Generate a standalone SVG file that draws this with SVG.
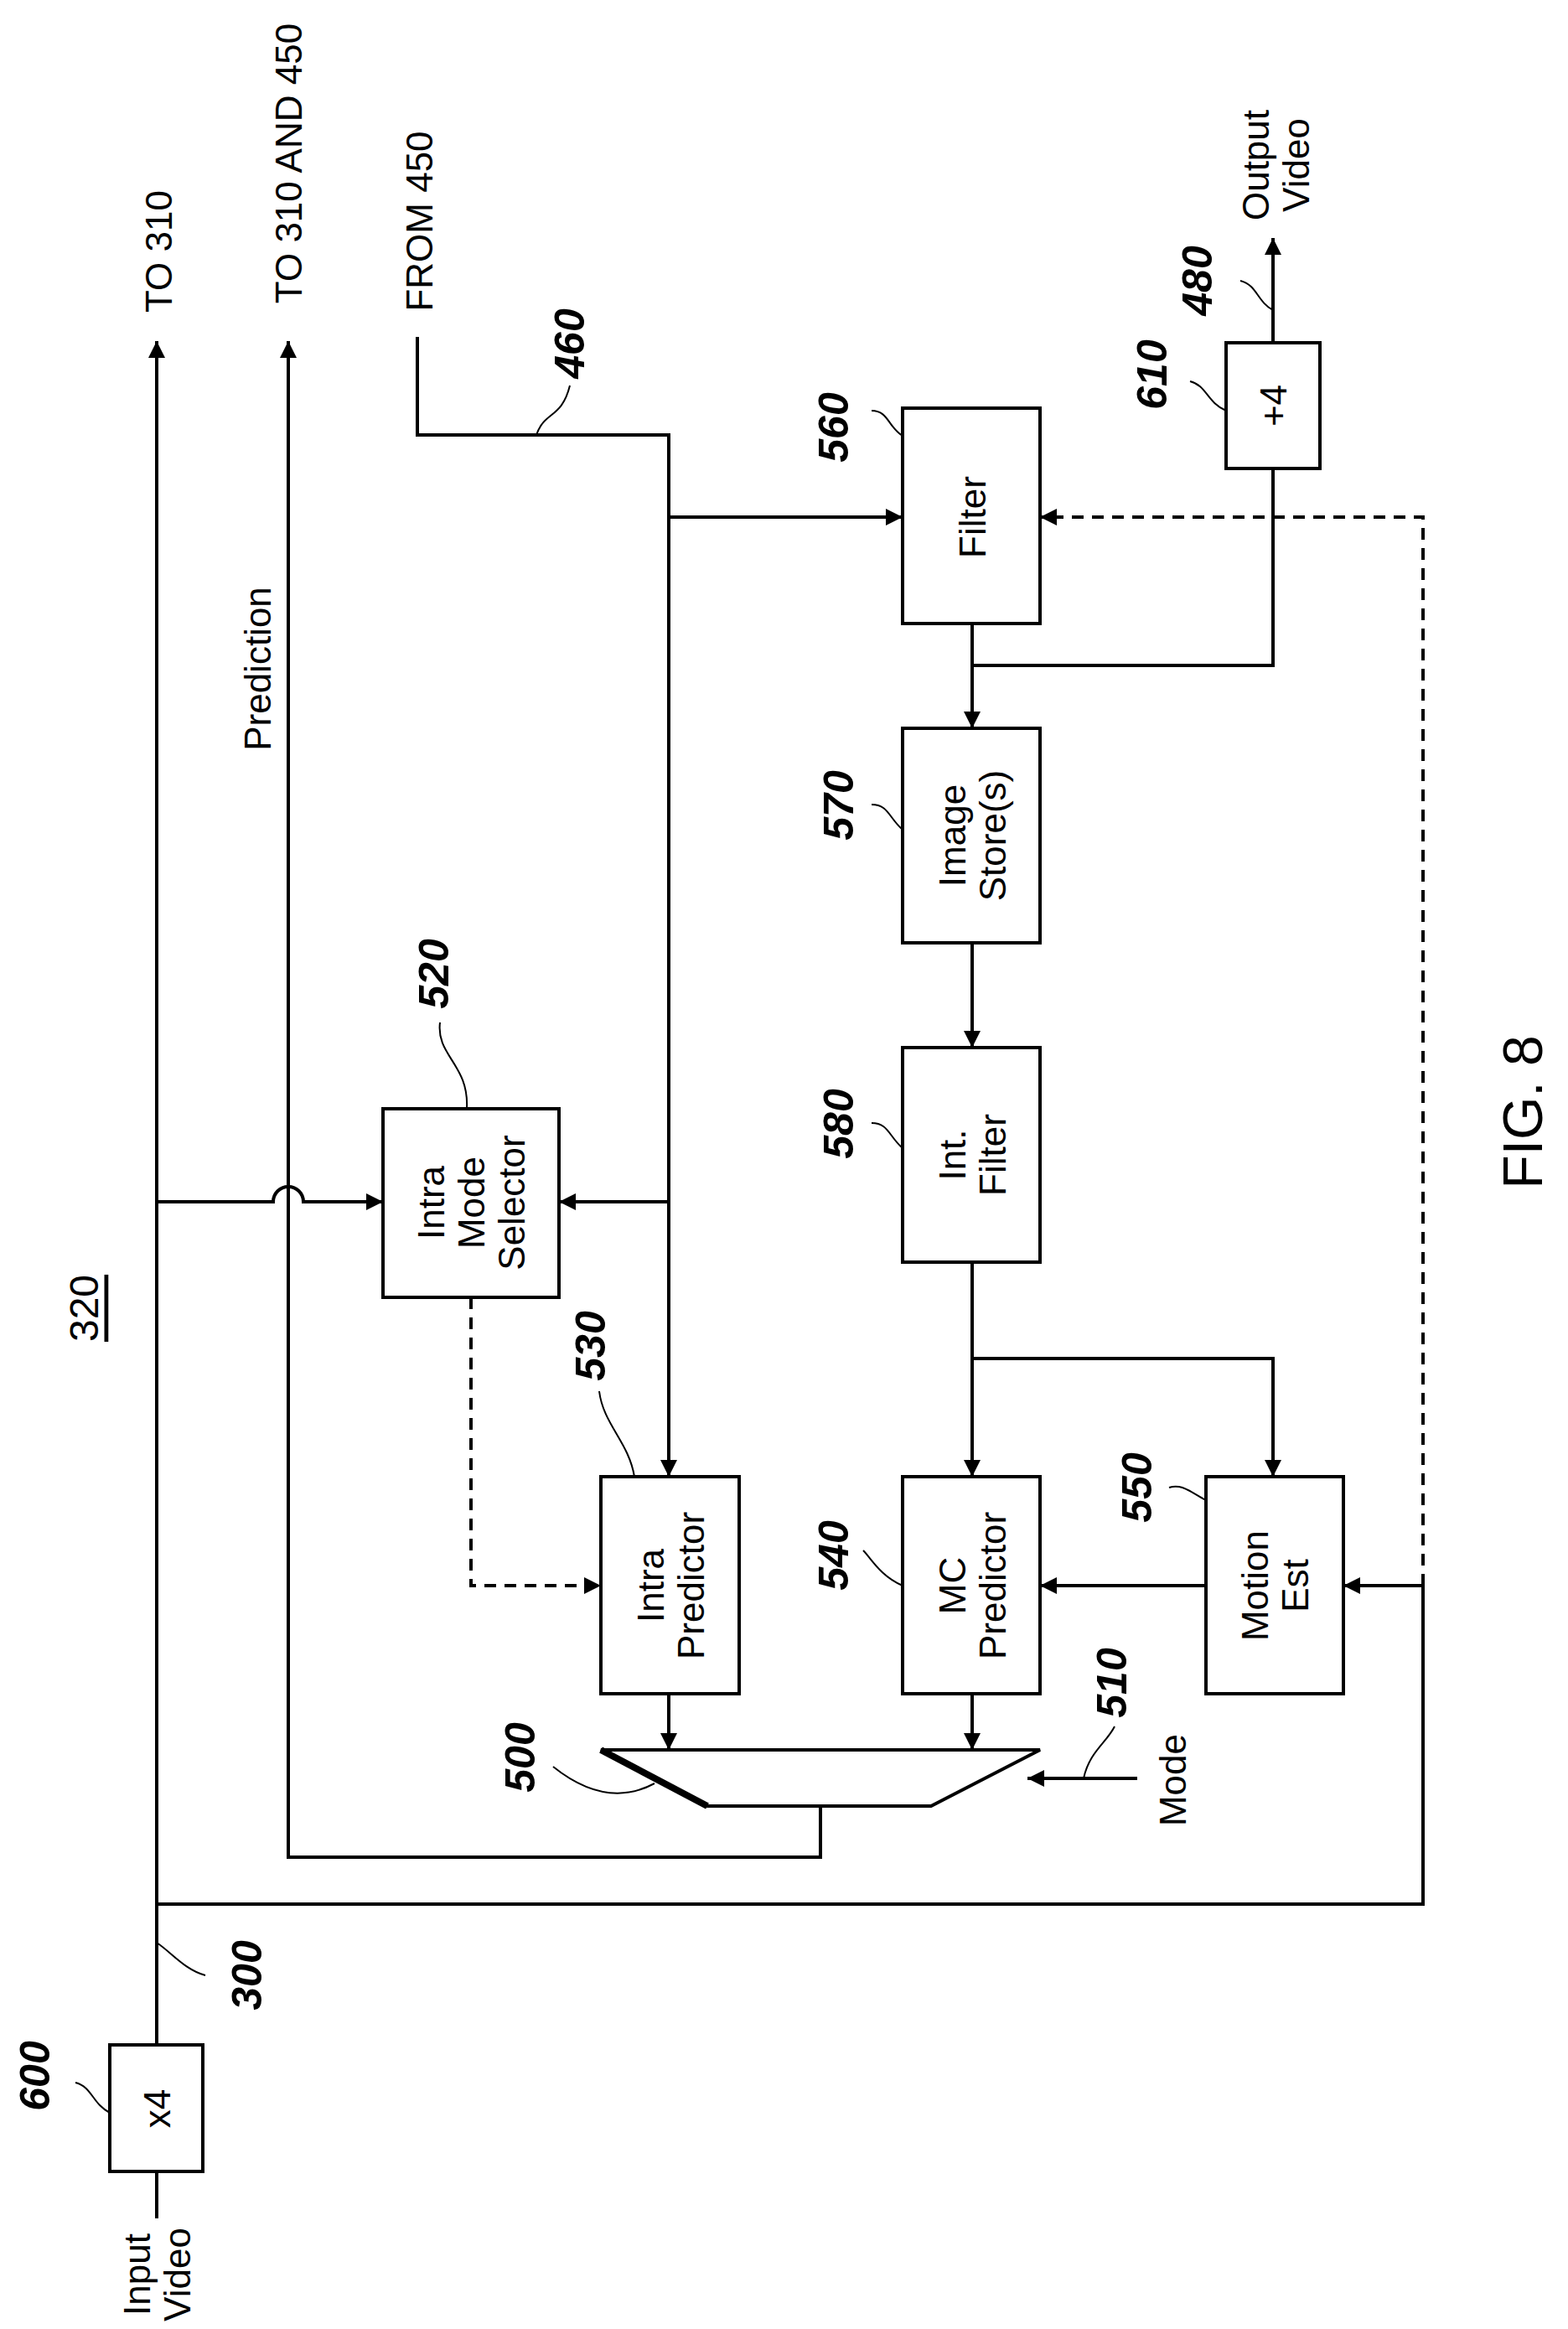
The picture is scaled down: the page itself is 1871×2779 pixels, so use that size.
<svg xmlns="http://www.w3.org/2000/svg" width="1871" height="2779" viewBox="0 0 1871 2779">
<style>
.b{fill:#fff;stroke:#000;stroke-width:4}
.l{fill:none;stroke:#000;stroke-width:4}
.d{fill:none;stroke:#000;stroke-width:4;stroke-dasharray:14,10}
.ld{fill:none;stroke:#000;stroke-width:2}
.t{font-family:"Liberation Sans",Arial,sans-serif;font-size:44px;text-anchor:middle;dominant-baseline:central}
.n{font-family:"Liberation Sans",Arial,sans-serif;font-size:50px;font-weight:bold;font-style:italic;text-anchor:middle;dominant-baseline:central}
</style>
<defs>
<marker id="a" viewBox="0 0 10 10" refX="10" refY="5" markerWidth="6" markerHeight="5" orient="auto" markerUnits="strokeWidth"><path d="M0,0 L10,5 L0,10 z" fill="#000"/></marker>
</defs>
<rect width="1871" height="2779" fill="#fff"/>
<g id="connectors">
<path class="l" d="M187,2441 V407" marker-end="url(#a)"/>
<path class="l" d="M187,2591 V2647"/>
<path class="l" d="M979,2155 V2216 H344 V407" marker-end="url(#a)"/>
<path class="l" d="M498,402 V519 H798 V1762" marker-end="url(#a)"/>
<path class="l" d="M798,617 H1077" marker-end="url(#a)"/>
<path class="l" d="M798,1434 H667" marker-end="url(#a)"/>
<path class="l" d="M187,1434 H326 A18,18 0 0 1 362,1434 H457" marker-end="url(#a)"/>
<path class="d" d="M562,1548 V1892 H717" marker-end="url(#a)"/>
<path class="l" d="M1160,744 V869" marker-end="url(#a)"/>
<path class="l" d="M1160,794 H1519 V559"/>
<path class="l" d="M1519,409 V284" marker-end="url(#a)"/>
<path class="l" d="M1160,1125 V1250" marker-end="url(#a)"/>
<path class="l" d="M1160,1506 V1762" marker-end="url(#a)"/>
<path class="l" d="M1160,1621 H1519 V1762" marker-end="url(#a)"/>
<path class="l" d="M1439,1892 H1241" marker-end="url(#a)"/>
<path class="d" d="M1698,1892 V617 H1241" marker-end="url(#a)"/>
<path class="l" d="M1698,1892 H1603" marker-end="url(#a)"/>
<path class="l" d="M1698,1892 V2272 H187"/>
<path class="l" d="M798,2021 V2088" marker-end="url(#a)"/>
<path class="l" d="M1160,2021 V2088" marker-end="url(#a)"/>
<path class="l" d="M1357,2122 H1226" marker-end="url(#a)"/>
</g>
<g id="leaders">
<path class="ld" d="M640,519 C650,490 670,500 680,460"/>
<path class="ld" d="M557,1323 C560,1270 520,1260 525,1220"/>
<path class="ld" d="M757,1762 C750,1720 720,1700 715,1660"/>
<path class="ld" d="M1077,1892 C1050,1880 1040,1860 1030,1850"/>
<path class="ld" d="M1439,1790 C1420,1780 1410,1770 1395,1775"/>
<path class="ld" d="M781,2128 C740,2150 700,2140 660,2108"/>
<path class="ld" d="M1293,2122 C1300,2090 1320,2080 1330,2060"/>
<path class="ld" d="M1077,520 C1060,510 1060,490 1040,490"/>
<path class="ld" d="M1077,990 C1060,975 1060,960 1040,960"/>
<path class="ld" d="M1077,1370 C1060,1355 1060,1340 1040,1340"/>
<path class="ld" d="M1463,490 C1440,480 1440,460 1420,455"/>
<path class="ld" d="M1519,370 C1500,360 1500,340 1480,335"/>
<path class="ld" d="M131,2521 C110,2510 110,2490 90,2485"/>
<path class="ld" d="M187,2318 C205,2330 220,2350 245,2357"/>
</g>
<g id="n600"><rect class="b" x="131" y="2440" width="111" height="151"/><text class="t" transform="translate(187,2516) rotate(-90)">x4</text><text class="n" transform="translate(42,2477) rotate(-90)">600</text></g>
<g id="n610"><rect class="b" x="1463" y="409" width="112" height="150"/><text class="t" transform="translate(1519,484) rotate(-90)">+4</text><text class="n" transform="translate(1375,447) rotate(-90)">610</text></g>
<g id="n560"><rect class="b" x="1077" y="487" width="164" height="257"/><text class="t" transform="translate(1160,617) rotate(-90)">Filter</text><text class="n" transform="translate(995,510) rotate(-90)">560</text></g>
<g id="n570"><rect class="b" x="1077" y="869" width="164" height="256"/><text class="t" transform="translate(1160,997) rotate(-90)"><tspan x="0" dy="-0.55em">Image</tspan><tspan x="0" dy="1.1em">Store(s)</tspan></text><text class="n" transform="translate(1001,961) rotate(-90)">570</text></g>
<g id="n580"><rect class="b" x="1077" y="1250" width="164" height="256"/><text class="t" transform="translate(1160,1378) rotate(-90)"><tspan x="0" dy="-0.55em">Int.</tspan><tspan x="0" dy="1.1em">Filter</tspan></text><text class="n" transform="translate(1001,1341) rotate(-90)">580</text></g>
<g id="n520"><rect class="b" x="457" y="1323" width="210" height="225"/><text class="t" transform="translate(562,1435) rotate(-90)"><tspan x="0" dy="-1.1em">Intra</tspan><tspan x="0" dy="1.1em">Mode</tspan><tspan x="0" dy="1.1em">Selector</tspan></text><text class="n" transform="translate(518,1162) rotate(-90)">520</text></g>
<g id="n530"><rect class="b" x="717" y="1762" width="165" height="259"/><text class="t" transform="translate(800,1892) rotate(-90)"><tspan x="0" dy="-0.55em">Intra</tspan><tspan x="0" dy="1.1em">Predictor</tspan></text><text class="n" transform="translate(705,1606) rotate(-90)">530</text></g>
<g id="n540"><rect class="b" x="1077" y="1762" width="164" height="259"/><text class="t" transform="translate(1160,1892) rotate(-90)"><tspan x="0" dy="-0.55em">MC</tspan><tspan x="0" dy="1.1em">Predictor</tspan></text><text class="n" transform="translate(995,1856) rotate(-90)">540</text></g>
<g id="n550"><rect class="b" x="1439" y="1762" width="164" height="259"/><text class="t" transform="translate(1521,1892) rotate(-90)"><tspan x="0" dy="-0.55em">Motion</tspan><tspan x="0" dy="1.1em">Est</tspan></text><text class="n" transform="translate(1357,1775) rotate(-90)">550</text></g>
<g id="n500"><path class="b" d="M717,2088 H1241 L1111,2155 H844 Z"/><path d="M717,2088 L844,2155" stroke="#000" stroke-width="8"/><text class="n" transform="translate(621,2097) rotate(-90)">500</text></g>
<g id="labels">
<text class="t" transform="translate(189,300) rotate(-90)">TO 310</text>
<text class="t" transform="translate(344,195) rotate(-90)">TO 310 AND 450</text>
<text class="t" transform="translate(500,264) rotate(-90)">FROM 450</text>
<text class="t" transform="translate(307,798) rotate(-90)">Prediction</text>
<text class="n" transform="translate(680,410) rotate(-90)">460</text>
<text class="n" transform="translate(1429,335) rotate(-90)">480</text>
<text class="t" transform="translate(1522,197) rotate(-90)"><tspan x="0" dy="-0.55em">Output</tspan><tspan x="0" dy="1.1em">Video</tspan></text>
<text class="t" transform="translate(187,2714) rotate(-90)"><tspan x="0" dy="-0.55em">Input</tspan><tspan x="0" dy="1.1em">Video</tspan></text>
<text class="n" transform="translate(295,2357) rotate(-90)">300</text>
<text class="n" transform="translate(1327,2008) rotate(-90)">510</text>
<text class="t" transform="translate(1399,2124) rotate(-90)">Mode</text>
<text class="t" style="font-size:48px;text-decoration:underline" transform="translate(100,1561) rotate(-90)">320</text>
<text class="t" style="font-size:66px" transform="translate(1817,1327) rotate(-90)">FIG. 8</text>
</g>
</svg>
